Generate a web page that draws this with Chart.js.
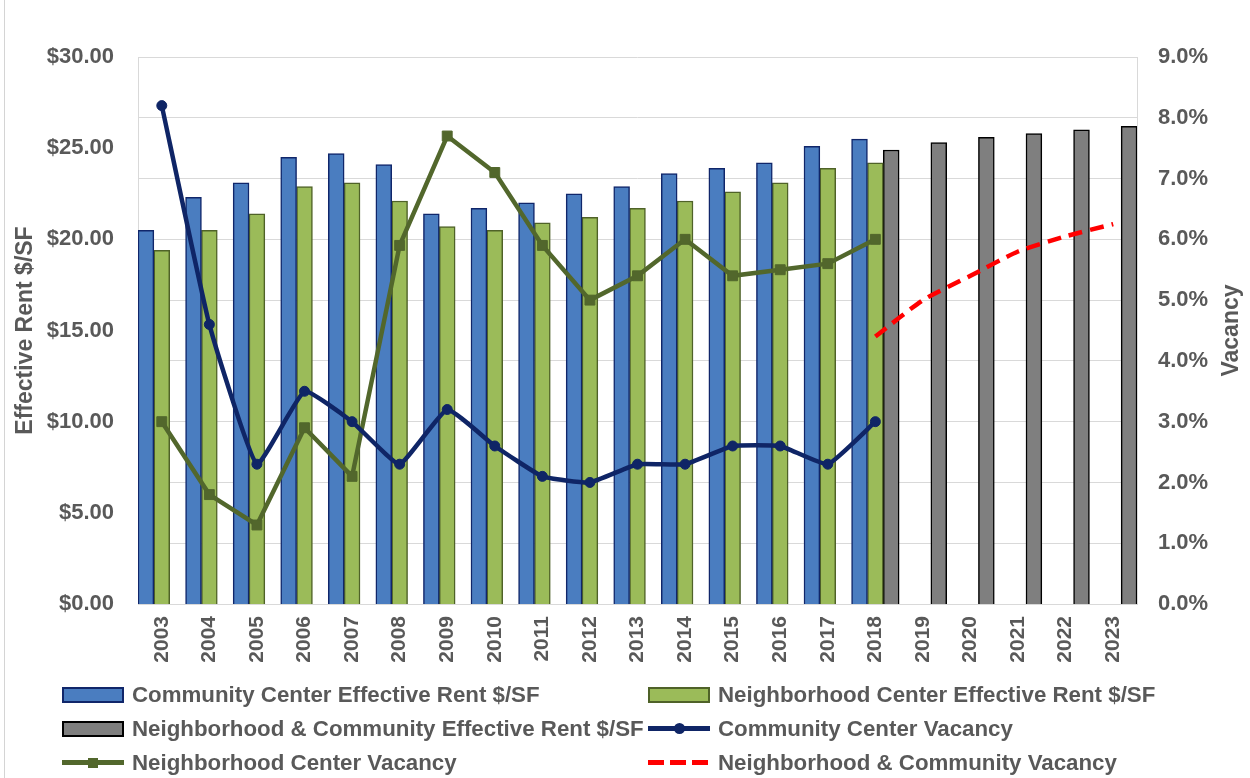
<!DOCTYPE html>
<html>
<head>
<meta charset="utf-8">
<script src="https://cdn.jsdelivr.net/npm/chart.js@4.4.1/dist/chart.umd.min.js"></script>
<style>
  html, body { margin: 0; padding: 0; background: #fff; }
  #wrap { position: relative; width: 1250px; height: 778px; overflow: hidden; background: #fff; }
  #c { position: absolute; left: 0; top: 0; }
  #edge { position: absolute; left: 4px; top: 0; width: 1px; height: 778px; background: #d4d4d4; }
  .lg { position: absolute; height: 28px; display: flex; align-items: center;
        font-family: "Liberation Sans", Arial, sans-serif; font-weight: bold; font-size: 22.3px; color: #595959; white-space: nowrap; }
  .sw { position: relative; width: 62px; height: 28px; margin-right: 8px; flex: none; }
  .box { position: absolute; left: 0; top: 6px; width: 58px; height: 12px; border-style: solid; border-width: 2px; }
  .ln { position: absolute; left: 0; top: 11px; width: 62px; height: 5px; }
  .mk { position: absolute; }
</style>
</head>
<body>
<div id="wrap">
  <canvas id="c" width="1250" height="778"></canvas>
  <div id="edge"></div>
  <div id="legend"></div>
</div>
<script>
// ---- data ----
const years = ['2003','2004','2005','2006','2007','2008','2009','2010','2011','2012','2013','2014','2015','2016','2017','2018','2019','2020','2021','2022','2023'];
const communityRent = [20.5,22.3,23.1,24.5,24.7,24.1,21.4,21.7,22.0,22.5,22.9,23.6,23.9,24.2,25.1,25.5,null,null,null,null,null];
const neighborhoodRent = [19.4,20.5,21.4,22.9,23.1,22.1,20.7,20.5,20.9,21.2,21.7,22.1,22.6,23.1,23.9,24.2,null,null,null,null,null];
const combinedRent = [null,null,null,null,null,null,null,null,null,null,null,null,null,null,null,24.9,25.3,25.6,25.8,26.0,26.2];
const communityVacancy = [8.2,4.6,2.3,3.5,3.0,2.3,3.2,2.6,2.1,2.0,2.3,2.3,2.6,2.6,2.3,3.0,null,null,null,null,null];
const neighborhoodVacancy = [3.0,1.8,1.3,2.9,2.1,5.9,7.7,7.1,5.9,5.0,5.4,6.0,5.4,5.5,5.6,6.0,null,null,null,null,null];
const combinedVacancy = [null,null,null,null,null,null,null,null,null,null,null,null,null,null,null,4.4,5.0,5.4,5.8,6.05,6.25];
const seriesNames = [
  'Community Center Effective Rent $/SF',
  'Neighborhood Center Effective Rent $/SF',
  'Neighborhood & Community Effective Rent $/SF',
  'Community Center Vacancy',
  'Neighborhood Center Vacancy',
  'Neighborhood & Community Vacancy'
];
const rentTicks = [0,5,10,15,20,25,30];
const vacancyTicks = [0,1,2,3,4,5,6,7,8,9];
const leftTitle = 'Effective Rent $/SF';
const rightTitle = 'Vacancy';

// ---- styles ----
const FONT = '"Liberation Sans", Arial, sans-serif';
const TXT = '#595959';
const GRID = '#d9d9d9';

const datasets = [
  { type:'bar', label: seriesNames[0], data: communityRent, yAxisID:'y', order:2,
    backgroundColor:'#4a7dc0', borderColor:'#10266a', borderWidth:1.5 },
  { type:'bar', label: seriesNames[1], data: neighborhoodRent, yAxisID:'y', order:2,
    backgroundColor:'#9bbb59', borderColor:'#4f6228', borderWidth:1.5 },
  { type:'bar', label: seriesNames[2], data: combinedRent, yAxisID:'y', order:2,
    backgroundColor:'#7f7f7f', borderColor:'#000000', borderWidth:1.5 },
  { type:'line', label: seriesNames[3], data: communityVacancy, yAxisID:'y1', order:0,
    borderColor:'#0f2566', backgroundColor:'#0f2566', borderWidth:4.5, tension:0.12,
    pointStyle:'circle', pointRadius:5, pointBorderWidth:1, spanGaps:false },
  { type:'line', label: seriesNames[4], data: neighborhoodVacancy, yAxisID:'y1', order:1,
    borderColor:'#52672c', backgroundColor:'#52672c', borderWidth:4.5, tension:0,
    pointStyle:'rect', pointRadius:7, pointBorderWidth:1 },
  { type:'line', label: seriesNames[5], data: combinedVacancy, yAxisID:'y1', order:0,
    borderColor:'#ff0000', backgroundColor:'#ff0000', borderWidth:4.5, tension:0.2,
    borderDash:[14,8], pointRadius:0 }
];

// right-axis title drawn reading bottom-to-top, like the reference
const rightTitlePlugin = {
  id: 'rightTitle',
  afterDraw(ch) {
    const s = ch.scales.y1;
    const ctx = ch.ctx;
    ctx.save();
    ctx.translate(s.right - 18, (ch.chartArea.top + ch.chartArea.bottom) / 2);
    ctx.rotate(-Math.PI / 2);
    ctx.font = 'bold 23px ' + FONT;
    ctx.fillStyle = TXT;
    ctx.textAlign = 'center';
    ctx.textBaseline = 'middle';
    ctx.fillText(rightTitle, 0, 0);
    ctx.restore();
  }
};

const chart = new Chart(document.getElementById('c'), {
  type: 'bar',
  data: { labels: years, datasets },
  plugins: [rightTitlePlugin],
  options: {
    responsive: false,
    animation: false,
    devicePixelRatio: 1,
    layout: { padding: { top: 57, left: 0, right: 0, bottom: 0 } },
    plugins: { legend: { display: false }, tooltip: { enabled: false } },
    datasets: { bar: { categoryPercentage: 1.0, barPercentage: 1.0 } },
    scales: {
      x: {
        grid: { display: false, drawTicks: false },
        border: { display: true, color: GRID },
        ticks: { color: TXT, font: { family: FONT, size: 21, weight: 'bold' }, minRotation: 90, maxRotation: 90, padding: 12, autoSkip: false },
        afterFit: s => { s.height = 174; }
      },
      y: {
        position: 'left', min: 0, max: 30,
        afterBuildTicks: s => { s.ticks = rentTicks.map(v => ({ value: v })); },
        grid: { display: false, drawTicks: false },
        border: { display: true, color: GRID },
        ticks: { color: TXT, font: { family: FONT, size: 22, weight: 'bold' }, padding: 24,
                 callback: v => '$' + Number(v).toFixed(2) },
        title: { display: true, text: leftTitle, color: TXT,
                 font: { family: FONT, size: 23, weight: 'bold' }, padding: { top: 12, bottom: 0 } },
        afterFit: s => { s.width = 138; }
      },
      y1: {
        position: 'right', min: 0, max: 9,
        afterBuildTicks: s => { s.ticks = vacancyTicks.map(v => ({ value: v })); },
        grid: { display: true, color: GRID, lineWidth: 1, drawTicks: false },
        border: { display: true, color: GRID },
        ticks: { color: TXT, font: { family: FONT, size: 22, weight: 'bold' }, padding: 21,
                 callback: v => Number(v).toFixed(1) + '%' },
        title: { display: false },
        afterFit: s => { s.width = 113; }
      }
    }
  }
});

// ---- HTML legend built from the chart's datasets ----
const legend = document.getElementById('legend');
const colX = [62, 648];
const rowY = [695, 729, 763];
chart.data.datasets.forEach((ds, i) => {
  const item = document.createElement('div');
  item.className = 'lg';
  item.style.left = colX[i % 2] + 'px';
  item.style.top = (rowY[Math.floor(i / 2)] - 14) + 'px';
  const sw = document.createElement('div');
  sw.className = 'sw';
  if (ds.type === 'bar') {
    const b = document.createElement('div');
    b.className = 'box';
    b.style.background = ds.backgroundColor;
    b.style.borderColor = ds.borderColor;
    sw.appendChild(b);
  } else {
    const l = document.createElement('div');
    l.className = 'ln';
    if (ds.borderDash) {
      l.style.background = `repeating-linear-gradient(90deg, ${ds.borderColor} 0 16px, transparent 16px 22px)`;
    } else {
      l.style.background = ds.borderColor;
    }
    sw.appendChild(l);
    if (ds.pointRadius > 0) {
      const m = document.createElement('div');
      m.className = 'mk';
      const size = ds.pointStyle === 'rect' ? 10 : 11;
      m.style.width = size + 'px';
      m.style.height = size + 'px';
      m.style.left = (31 - size / 2) + 'px';
      m.style.top = (13.5 - size / 2) + 'px';
      m.style.background = ds.backgroundColor;
      if (ds.pointStyle !== 'rect') m.style.borderRadius = '50%';
      sw.appendChild(m);
    }
  }
  item.appendChild(sw);
  const t = document.createElement('span');
  t.textContent = ds.label;
  item.appendChild(t);
  legend.appendChild(item);
});
</script>
</body>
</html>
